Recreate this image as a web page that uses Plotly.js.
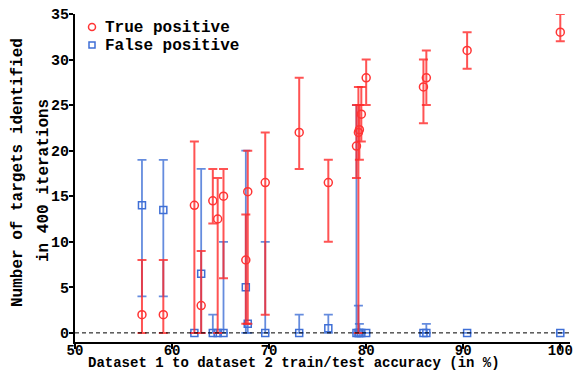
<!DOCTYPE html>
<html>
<head>
<meta charset="utf-8">
<script src="https://cdn.plot.ly/plotly-3.0.1.min.js"></script>
<style>html,body{margin:0;padding:0;background:#fff;}#chart{width:576px;height:372px;}</style>
</head>
<body>
<div id="chart"></div>
<script>
// Dataset 1 -> dataset 2 train/test accuracy (%)
const accuracy = [56.9, 59.1, 62.3, 63.0, 64.2, 64.7, 65.3, 67.6, 67.8, 69.6, 73.1, 76.1, 79.0, 79.2, 79.3, 79.5, 80.0, 85.9, 86.2, 90.4, 100.0];
// True positives: mean, lower bound, upper bound
const tpMean  = [2, 2, 14, 3, 14.5, 12.5, 15, 8, 15.5, 16.5, 22, 16.5, 20.5, 22, 22.3, 24, 28, 27, 28, 31, 33];
const tpLow   = [0, 0, 0, 0, 12, 0, 6, 1, 1, 2, 18, 10, 17, 0, 19, 21, 25, 23, 25, 29, 32];
const tpHigh  = [8, 8, 21, 9, 18, 17, 18, 13, 20, 22, 28, 19, 25, 27, 25, 27, 30, 30, 31, 33, 35];
// False positives: mean, lower bound, upper bound
const fpMean  = [14, 13.5, 0, 6.5, 0, 0, 0, 5, 1, 0, 0, 0.5, 0, 0, 0, 0, 0, 0, 0, 0, 0];
const fpLow   = [4, 4, 0, 0, 0, 0, 0, 0, 0, 0, 0, 0, 0, 0, 0, 0, 0, 0, 0, 0, 0];
const fpHigh  = [19, 19, 0, 18, 2, 0, 10, 20, 1, 10, 2, 2, 25, 3, 1, 0, 0, 0, 1, 0, 0];

const xTicks = [50, 60, 70, 80, 90, 100];
const yTicks = [0, 5, 10, 15, 20, 25, 30, 35];
const seriesNames = ['True positive', 'False positive'];
const xTitle = 'Dataset 1 to dataset 2 train/test accuracy (in %)';
const yTitleLines = ['Number of targets identified', 'in 400 iterations'];

const FONT = 'Liberation Mono, Courier New, monospace';
const RED = '#ff3434';
const BLUE = '#3f6fd6';

const fp = {
  x: accuracy, y: fpMean, type: 'scatter', mode: 'markers', name: seriesNames[1], showlegend: false,
  marker: {symbol: 'square-open', size: 7, color: BLUE, line: {width: 1.5, color: BLUE}},
  error_y: {type: 'data', symmetric: false,
    array: fpHigh.map((h, i) => h - fpMean[i]),
    arrayminus: fpMean.map((m, i) => m - fpLow[i]),
    color: 'rgba(63,111,214,0.8)', thickness: 1.8, width: 4.5}
};
const tp = {
  x: accuracy, y: tpMean, type: 'scatter', mode: 'markers', name: seriesNames[0], showlegend: false,
  marker: {symbol: 'circle-open', size: 8, color: RED, line: {width: 1.5, color: RED}},
  error_y: {type: 'data', symmetric: false,
    array: tpHigh.map((h, i) => h - tpMean[i]),
    arrayminus: tpMean.map((m, i) => m - tpLow[i]),
    color: 'rgba(255,40,40,0.8)', thickness: 2, width: 4.5}
};

// plot area geometry (pixels) used to place legend / titles
const L = 75, R = 6, T = 14, B = 30, W = 576, H = 372;
const pw = W - L - R, ph = H - T - B;
const px = v => (v - L) / pw;
const py = v => (H - B - v) / ph;

const bold = (size) => ({family: FONT, size: size, weight: 'bold', color: '#000'});

const annotations = [
  {xref: 'paper', yref: 'paper', x: px(103), y: py(28), xanchor: 'left', yanchor: 'middle', showarrow: false, text: seriesNames[0], font: bold(16)},
  {xref: 'paper', yref: 'paper', x: px(103), y: py(46), xanchor: 'left', yanchor: 'middle', showarrow: false, text: seriesNames[1], font: bold(16)},
  {xref: 'paper', yref: 'paper', x: px(294), y: py(363), xanchor: 'center', yanchor: 'middle', showarrow: false, text: xTitle, font: bold(14), borderpad: 0},
  {xref: 'paper', yref: 'paper', x: px(18), y: py(173), xanchor: 'center', yanchor: 'middle', showarrow: false, textangle: -90, text: yTitleLines[0], font: bold(16)},
  {xref: 'paper', yref: 'paper', x: px(44), y: py(181), xanchor: 'center', yanchor: 'middle', showarrow: false, textangle: -90, text: yTitleLines[1], font: bold(16)}
];

const shapes = [
  {type: 'line', xref: 'paper', x0: 0, x1: 1, yref: 'y', y0: 0, y1: 0, line: {color: '#000', width: 1, dash: '4px,3px'}},
  // legend symbols
  {type: 'circle', xref: 'paper', yref: 'paper', xsizemode: 'pixel', ysizemode: 'pixel',
    xanchor: px(92), yanchor: py(27), x0: -3.5, x1: 3.5, y0: -3.5, y1: 3.5, line: {color: RED, width: 1.5}},
  {type: 'rect', xref: 'paper', yref: 'paper', xsizemode: 'pixel', ysizemode: 'pixel',
    xanchor: px(92), yanchor: py(45), x0: -3, x1: 3, y0: -3, y1: 3, line: {color: BLUE, width: 1.5}}
];

const layout = {
  width: W, height: H,
  margin: {l: L, r: R, t: T, b: B},
  paper_bgcolor: '#fff', plot_bgcolor: '#fff',
  font: bold(15),
  showlegend: false,
  xaxis: {range: [50, 101], tickvals: xTicks, showgrid: false, zeroline: false,
    showline: true, linecolor: '#000', linewidth: 2, ticks: 'outside', ticklen: 5, tickwidth: 2, tickcolor: '#000',
    tickfont: bold(14), ticklabelstandoff: -11},
  yaxis: {range: [-1, 35], tickvals: yTicks, showgrid: false, zeroline: false,
    showline: true, linecolor: '#000', linewidth: 2, ticks: 'outside', ticklen: 4, tickwidth: 2, tickcolor: '#000',
    tickfont: bold(15), ticklabelstandoff: -3},
  annotations: annotations,
  shapes: shapes
};

Plotly.newPlot('chart', [fp, tp], layout, {displayModeBar: false, staticPlot: true});
</script>
</body>
</html>
